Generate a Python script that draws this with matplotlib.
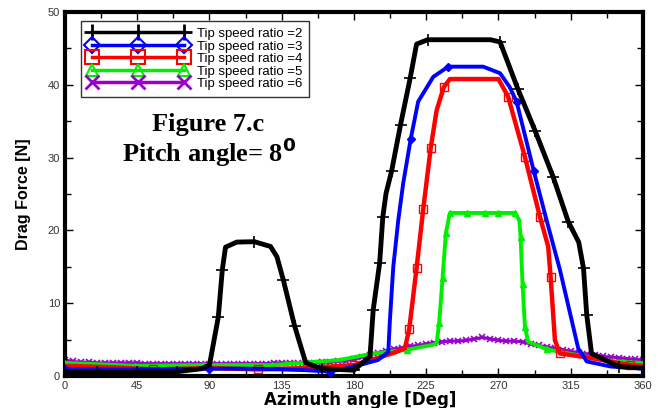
import matplotlib.pyplot as plt
from matplotlib.lines import Line2D
import numpy as np

# Drag force vs azimuth angle, pitch angle 8 deg
ang_tsr2 = [0, 20, 45, 70, 85, 90, 95.5, 98, 100, 107, 118, 128, 132, 136, 143, 150, 160, 180,
            190, 192, 196, 198, 200, 203.5, 209, 215, 219, 226, 265, 271, 282, 293, 304, 313.5,
            320, 323, 325, 328, 345, 360]
drag_tsr2 = [0.6, 0.5, 0.5, 0.6, 1.0, 1.5, 8.1, 14.6, 17.7, 18.4, 18.45, 17.8, 16.4, 13.2, 6.9, 1.8, 1.0, 0.8,
             2.7, 9.1, 15.5, 21.9, 25.1, 28.2, 34.5, 40.9, 45.6, 46.2, 46.2, 45.9, 39.5, 33.6, 27.4, 21.2,
             18.4, 14.8, 8.4, 3.1, 1.3, 1.1]

ang_tsr3 = [0, 30, 60, 90, 120, 150, 165, 180, 195, 201.4, 202.4, 204.5, 207.6, 210.7, 215.3, 220,
            229.4, 238.7, 260.5, 271, 277, 281.3, 292.1, 300, 308.3, 319.7, 325, 340, 360]
drag_tsr3 = [1.0, 0.9, 0.9, 1.0, 1.0, 0.8, 0.6, 1.3, 2.2, 3.3, 7.7, 15, 21.4, 26.5, 32.5, 37.7,
             41.1, 42.5, 42.5, 41.6, 39.7, 37.7, 28.1, 21.4, 14.6, 3.8, 2.0, 1.3, 1.0]

ang_tsr4 = [0, 30, 55, 90, 120, 150, 180, 195, 205, 211.7, 214.4, 219, 223.2, 227.8, 231.5, 236,
            239.8, 270, 276, 286.5, 295.8, 301, 302.5, 305.2, 308.3, 327, 352, 360]
drag_tsr4 = [1.4, 1.2, 0.9, 1.1, 0.9, 1.1, 1.5, 2.5, 3.2, 3.8, 6.4, 14.8, 23, 31.3, 36.5, 39.7,
             40.8, 40.8, 38.4, 30.1, 21.9, 17.8, 13.6, 4.9, 3.1, 2.5, 1.5, 1.4]

ang_tsr5 = [0, 43.6, 86, 129, 171, 192, 212.8, 229.4, 231.5, 233.1, 235.2, 237.3, 239.8, 250.4,
            261.6, 269.7, 280.3, 283, 283.8, 285, 286.5, 288.5, 300, 308.3, 341.5, 360]
drag_tsr5 = [1.8, 1.4, 1.5, 1.5, 2.2, 3.1, 3.6, 4.3, 4.5, 7.3, 13.5, 19.7, 22.4, 22.4,
             22.4, 22.4, 22.4, 21.4, 19.1, 12.7, 6.8, 4.7, 3.7, 3.3, 2.0, 1.8]

ang_tsr6 = list(range(0, 361, 5))
drag_tsr6 = [2.2, 2.0, 1.9, 1.9, 1.8, 1.8, 1.8, 1.8, 1.8, 1.8, 1.7, 1.7, 1.7, 1.7, 1.7, 1.7,
             1.7, 1.7, 1.7, 1.7, 1.7, 1.7, 1.7, 1.7, 1.7, 1.7, 1.8, 1.8, 1.8, 1.8, 1.8, 1.8,
             1.9, 1.9, 2.0, 2.1, 2.3, 2.6, 2.9, 3.2, 3.5, 3.7, 3.9, 4.1, 4.2, 4.4, 4.6, 4.7,
             4.8, 4.8, 4.9, 5.1, 5.3, 5.1, 4.9, 4.8, 4.8, 4.7, 4.4, 4.2, 4.0, 3.8, 3.6, 3.4,
             3.2, 3.0, 2.9, 2.7, 2.6, 2.5, 2.4, 2.3, 2.2]

labels = ['Tip speed ratio =2', 'Tip speed ratio =3', 'Tip speed ratio =4',
          'Tip speed ratio =5', 'Tip speed ratio =6']

# which points carry a symbol
mk2 = [1, 2, 3, 6, 7, 10, 13, 14, 16, 17, 19, 20, 21, 23, 24, 25, 27, 29, 30, 31, 32, 33, 35, 36, 38]
mk3 = [0, 3, 6, 14, 17, 21, 22]
mk4 = [2, 4, 6, 10, 11, 12, 13, 15, 18, 19, 20, 22, 24, 26]
mk5 = [0, 1, 2, 3, 6, 9, 10, 11, 12, 13, 14, 15, 16, 18, 19, 20, 22, 24]

purple = '#9900cc'
green = '#00ee00'

fig = plt.figure(figsize=(6.59, 4.08), dpi=100)
ax = fig.add_axes([0.0986, 0.0784, 0.877, 0.892])

ax.plot(ang_tsr6, drag_tsr6, color=purple, lw=2.2, marker='x', ms=4, mew=1.2, zorder=2)
ax.plot(ang_tsr5, drag_tsr5, color=green, lw=2.8, marker='^', ms=5, markevery=mk5, zorder=3)
ax.plot(ang_tsr4, drag_tsr4, color='red', lw=3.2, marker='s', ms=6, mfc='none', mew=1.0, markevery=mk4, zorder=4)
ax.plot(ang_tsr3, drag_tsr3, color='blue', lw=2.8, marker='D', ms=4, markevery=mk3, zorder=5)
ax.plot(ang_tsr2, drag_tsr2, color='black', lw=3.5, marker='+', ms=9, mew=1.2, markevery=mk2, zorder=6)

ax.set_xlim(0, 360)
ax.set_ylim(0, 50)
ax.set_xticks(np.arange(0, 361, 45))
ax.set_xticks(np.arange(0, 361, 22.5), minor=True)
ax.set_yticks(np.arange(0, 51, 10))
ax.set_yticks(np.arange(0, 51, 5), minor=True)
ax.tick_params(which='both', direction='in', top=True, right=True, labelsize=8, labelcolor='#333333')
ax.tick_params(which='major', length=6, width=1)
ax.tick_params(which='minor', length=4, width=1)
for lab in ax.get_xticklabels() + ax.get_yticklabels():
    lab.set_family('Liberation Sans')
for sp in ax.spines.values():
    sp.set_linewidth(3)

ax.set_xlabel('Azimuth angle [Deg]', fontsize=12, fontweight='bold', family='DejaVu Sans')
ax.xaxis.set_label_coords(0.51, -0.042)
ax.set_ylabel('Drag Force [N]', fontsize=11.5, fontweight='bold', family='Liberation Sans', labelpad=12)

ax.text(0.247, 0.692, 'Figure 7.c', transform=ax.transAxes, ha='center', va='center',
        fontsize=19, fontweight='bold', family='Liberation Serif')
ax.text(0.25, 0.615, 'Pitch angle= 8$^\\mathbf{0}$', transform=ax.transAxes, ha='center', va='center',
        fontsize=19, fontweight='bold', family='Liberation Serif')

handles = [
    Line2D([], [], color='black', lw=2.5, marker='+', ms=11, mew=2),
    Line2D([], [], color='blue', lw=2.5, marker='D', ms=8, mfc='none', mew=1.5),
    Line2D([], [], color='red', lw=2.5, marker='s', ms=10, mfc='none', mew=1.5),
    Line2D([], [], color=green, lw=2.5, marker='^', ms=9, mfc='none', mew=1.5),
    Line2D([], [], color=purple, lw=2.5, marker='x', ms=10, mew=2),
]
leg = fig.legend(handles, labels, loc='upper left', bbox_to_anchor=(0.123, 0.948), borderaxespad=0,
                 numpoints=3, handlelength=7.6, handletextpad=0.7, labelspacing=0.02,
                 borderpad=0.5, fancybox=False, frameon=True, prop={'family': 'Liberation Sans', 'size': 9.5})
leg.get_frame().set_edgecolor('black')
leg.get_frame().set_linewidth(1)

fig.savefig('out.png', dpi=100)
